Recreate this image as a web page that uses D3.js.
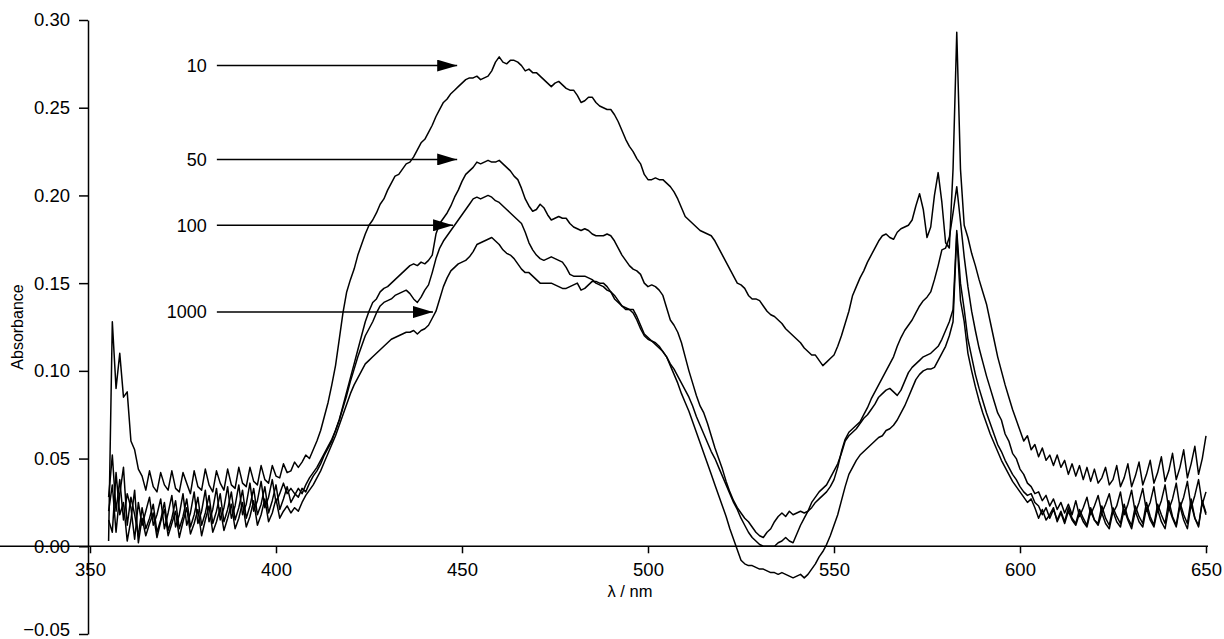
<!DOCTYPE html>
<html lang="en">
<head>
    <meta charset="UTF-8">
    <title>Absorbance spectra</title>
    <script src="https://cdn.jsdelivr.net/npm/d3@7/dist/d3.min.js"></script>
    <style>
        html, body {
            margin: 0;
            padding: 0;
            background: #fff;
        }
        #chart text {
            font-family: "Liberation Sans", Arial, Helvetica, sans-serif;
            fill: #000;
        }
    </style>
</head>
<body>
<div id="chart"></div>

<script>
    // wavelength grid, 1 nm steps, 355 - 650 nm
    var wavelengths = d3.range(355, 651, 1);

    // spectrum labelled 10
    var spec10 = [
        0.003, 0.128, 0.090, 0.110, 0.085, 0.088, 0.060, 0.055, 0.044, 0.040,
        0.032, 0.043, 0.034, 0.031, 0.042, 0.035, 0.032, 0.043, 0.033, 0.031,
        0.042, 0.036, 0.030, 0.043, 0.034, 0.032, 0.044, 0.035, 0.031, 0.043,
        0.036, 0.032, 0.044, 0.035, 0.033, 0.045, 0.036, 0.034, 0.045, 0.037,
        0.035, 0.046, 0.038, 0.036, 0.046, 0.040, 0.039, 0.047, 0.042, 0.043,
        0.048, 0.045, 0.048, 0.052, 0.050, 0.055, 0.060, 0.066, 0.074, 0.082,
        0.092, 0.103, 0.118, 0.133, 0.145, 0.152, 0.158, 0.166, 0.172, 0.178,
        0.183, 0.186, 0.190, 0.195, 0.198, 0.203, 0.207, 0.211, 0.212, 0.215,
        0.218, 0.219, 0.222, 0.226, 0.230, 0.232, 0.236, 0.240, 0.245, 0.249,
        0.253, 0.255, 0.258, 0.260, 0.262, 0.264, 0.266, 0.267, 0.267, 0.268,
        0.266, 0.267, 0.268, 0.271, 0.276, 0.279, 0.276, 0.275, 0.277, 0.277,
        0.276, 0.274, 0.271, 0.272, 0.270, 0.270, 0.268, 0.266, 0.264, 0.262,
        0.264, 0.265, 0.263, 0.261, 0.260, 0.260, 0.257, 0.253, 0.254, 0.256,
        0.256, 0.253, 0.251, 0.250, 0.249, 0.249, 0.246, 0.242, 0.237, 0.232,
        0.228, 0.225, 0.221, 0.218, 0.212, 0.209, 0.209, 0.210, 0.209, 0.209,
        0.207, 0.205, 0.202, 0.198, 0.193, 0.188, 0.186, 0.184, 0.182, 0.180,
        0.179, 0.178, 0.177, 0.174, 0.170, 0.166, 0.162, 0.158, 0.154, 0.150,
        0.149, 0.147, 0.143, 0.141, 0.141, 0.140, 0.137, 0.134, 0.132, 0.131,
        0.129, 0.127, 0.124, 0.122, 0.120, 0.118, 0.116, 0.113, 0.111, 0.109,
        0.109, 0.106, 0.103, 0.105, 0.107, 0.109, 0.114, 0.120, 0.127, 0.134,
        0.143, 0.148, 0.153, 0.157, 0.162, 0.166, 0.170, 0.174, 0.177, 0.178,
        0.176, 0.175, 0.179, 0.181, 0.182, 0.183, 0.186, 0.194, 0.201, 0.192,
        0.176, 0.182, 0.200, 0.213, 0.196, 0.173, 0.170, 0.215, 0.293, 0.215,
        0.183, 0.176, 0.167, 0.160, 0.152, 0.145, 0.138, 0.128, 0.118, 0.108,
        0.100, 0.092, 0.085, 0.078, 0.072, 0.066, 0.060, 0.063, 0.055, 0.058,
        0.051, 0.056, 0.049, 0.052, 0.046, 0.052, 0.045, 0.049, 0.041, 0.047,
        0.040, 0.046, 0.038, 0.045, 0.037, 0.044, 0.036, 0.039, 0.045, 0.035,
        0.038, 0.046, 0.034, 0.039, 0.047, 0.034, 0.040, 0.048, 0.035, 0.041,
        0.049, 0.036, 0.042, 0.051, 0.037, 0.043, 0.053, 0.038, 0.045, 0.055,
        0.039, 0.047, 0.057, 0.041, 0.050, 0.063
    ];

    // spectrum labelled 50
    var spec50 = [
        0.028, 0.052, 0.020, 0.038, 0.015, 0.030, 0.022, 0.004, 0.025, 0.012,
        0.020, 0.028, 0.012, 0.018, 0.027, 0.010, 0.019, 0.029, 0.011, 0.018,
        0.030, 0.012, 0.019, 0.031, 0.013, 0.020, 0.032, 0.014, 0.021, 0.033,
        0.015, 0.022, 0.034, 0.016, 0.023, 0.035, 0.018, 0.024, 0.036, 0.020,
        0.026, 0.037, 0.022, 0.028, 0.038, 0.025, 0.030, 0.036, 0.030, 0.033,
        0.030, 0.028, 0.033, 0.031, 0.036, 0.040, 0.043, 0.047, 0.052, 0.056,
        0.060, 0.066, 0.072, 0.080, 0.088, 0.096, 0.104, 0.112, 0.120, 0.128,
        0.134, 0.139, 0.141, 0.145, 0.147, 0.148, 0.150, 0.152, 0.154, 0.156,
        0.158, 0.160, 0.161, 0.160, 0.162, 0.161, 0.163, 0.166, 0.178, 0.184,
        0.187, 0.190, 0.194, 0.199, 0.203, 0.208, 0.212, 0.214, 0.216, 0.219,
        0.218, 0.219, 0.220, 0.219, 0.219, 0.220, 0.218, 0.216, 0.214, 0.211,
        0.209, 0.204, 0.198, 0.194, 0.191, 0.192, 0.195, 0.193, 0.189, 0.186,
        0.187, 0.188, 0.187, 0.187, 0.184, 0.182, 0.181, 0.180, 0.181, 0.180,
        0.178, 0.177, 0.177, 0.177, 0.178, 0.177, 0.174, 0.170, 0.166, 0.163,
        0.160, 0.158, 0.157, 0.155, 0.150, 0.148, 0.149, 0.148, 0.146, 0.143,
        0.136, 0.129, 0.126, 0.122, 0.116, 0.108, 0.100, 0.093, 0.086, 0.080,
        0.076, 0.070, 0.063, 0.056, 0.050, 0.044, 0.037, 0.031, 0.026, 0.022,
        0.019, 0.016, 0.014, 0.011, 0.008, 0.006, 0.005, 0.008, 0.010, 0.014,
        0.017, 0.019, 0.017, 0.020, 0.018, 0.019, 0.020, 0.019, 0.020, 0.022,
        0.025, 0.027, 0.029, 0.031, 0.034, 0.038, 0.045, 0.054, 0.061, 0.065,
        0.067, 0.069, 0.071, 0.075, 0.079, 0.084, 0.088, 0.092, 0.096, 0.100,
        0.104, 0.108, 0.114, 0.119, 0.123, 0.126, 0.129, 0.133, 0.137, 0.140,
        0.142, 0.145, 0.152, 0.160, 0.169, 0.170, 0.176, 0.190, 0.205, 0.185,
        0.165, 0.148, 0.134, 0.123, 0.113, 0.105, 0.097, 0.090, 0.083, 0.076,
        0.072, 0.064, 0.060, 0.053, 0.050, 0.044, 0.041, 0.036, 0.034, 0.030,
        0.031, 0.026, 0.029, 0.023, 0.027, 0.021, 0.025, 0.019, 0.024, 0.018,
        0.026, 0.017, 0.022, 0.028, 0.018, 0.023, 0.029, 0.019, 0.024, 0.030,
        0.019, 0.023, 0.031, 0.018, 0.024, 0.032, 0.019, 0.025, 0.033, 0.020,
        0.025, 0.034, 0.020, 0.026, 0.035, 0.021, 0.027, 0.036, 0.022, 0.028,
        0.037, 0.022, 0.029, 0.038, 0.024, 0.031
    ];

    // spectrum labelled 100
    var spec100 = [
        0.020, 0.035, 0.008, 0.030, 0.045, 0.012, 0.028, 0.018, 0.006, 0.022,
        0.010, 0.016, 0.024, 0.008, 0.015, 0.025, 0.009, 0.016, 0.026, 0.010,
        0.017, 0.027, 0.011, 0.018, 0.028, 0.012, 0.019, 0.029, 0.013, 0.020,
        0.030, 0.014, 0.021, 0.031, 0.015, 0.022, 0.032, 0.016, 0.023, 0.033,
        0.018, 0.024, 0.034, 0.019, 0.026, 0.035, 0.021, 0.027, 0.034, 0.025,
        0.029, 0.033, 0.030, 0.035, 0.039, 0.042, 0.045, 0.049, 0.053, 0.057,
        0.061, 0.066, 0.072, 0.079, 0.086, 0.094, 0.101, 0.108, 0.114, 0.120,
        0.124, 0.128, 0.133, 0.137, 0.139, 0.140, 0.141, 0.143, 0.144, 0.145,
        0.146, 0.144, 0.141, 0.139, 0.142, 0.146, 0.149, 0.156, 0.164, 0.170,
        0.174, 0.177, 0.180, 0.183, 0.186, 0.189, 0.192, 0.195, 0.198, 0.199,
        0.198, 0.199, 0.200, 0.199, 0.197, 0.196, 0.194, 0.192, 0.190, 0.188,
        0.186, 0.184, 0.179, 0.173, 0.169, 0.166, 0.164, 0.163, 0.164, 0.165,
        0.164, 0.163, 0.162, 0.159, 0.155, 0.154, 0.154, 0.154, 0.154, 0.153,
        0.152, 0.150, 0.149, 0.148, 0.146, 0.145, 0.143, 0.140, 0.137, 0.136,
        0.135, 0.133, 0.129, 0.124, 0.120, 0.118, 0.117, 0.116, 0.114, 0.111,
        0.108, 0.104, 0.101, 0.097, 0.093, 0.089, 0.085, 0.080, 0.074, 0.069,
        0.064, 0.059, 0.054, 0.050, 0.045, 0.040, 0.035, 0.030, 0.025, 0.021,
        0.016, 0.012, 0.008, 0.005, 0.003, 0.001, 0.000, 0.000, 0.000, 0.000,
        0.002, 0.003, 0.005, 0.003, 0.002, 0.007, 0.012, 0.016, 0.020, 0.025,
        0.028, 0.031, 0.033, 0.035, 0.039, 0.043, 0.047, 0.053, 0.060, 0.063,
        0.065, 0.067, 0.070, 0.073, 0.075, 0.078, 0.081, 0.085, 0.087, 0.089,
        0.090, 0.088, 0.086, 0.089, 0.094, 0.099, 0.102, 0.104, 0.106, 0.108,
        0.109, 0.110, 0.112, 0.114, 0.118, 0.123, 0.128, 0.135, 0.180, 0.150,
        0.135, 0.118, 0.108, 0.098, 0.090, 0.083, 0.076, 0.070, 0.064, 0.058,
        0.054, 0.049, 0.045, 0.041, 0.038, 0.034, 0.031, 0.029, 0.030, 0.025,
        0.023, 0.018, 0.022, 0.016, 0.021, 0.015, 0.020, 0.014, 0.022, 0.016,
        0.013, 0.021, 0.016, 0.012, 0.022, 0.015, 0.013, 0.023, 0.016, 0.012,
        0.022, 0.017, 0.013, 0.024, 0.016, 0.012, 0.023, 0.017, 0.013, 0.025,
        0.017, 0.012, 0.024, 0.018, 0.013, 0.026, 0.017, 0.012, 0.025, 0.018,
        0.013, 0.027, 0.016, 0.011, 0.026, 0.019
    ];

    // spectrum labelled 1000
    var spec1000 = [
        0.015, 0.008, 0.042, 0.018, 0.025, 0.003, 0.015, 0.032, 0.002, 0.016,
        0.006, 0.013, 0.019, 0.005, 0.014, 0.021, 0.006, 0.013, 0.020, 0.005,
        0.014, 0.022, 0.007, 0.013, 0.021, 0.006, 0.015, 0.023, 0.008, 0.014,
        0.022, 0.009, 0.016, 0.024, 0.010, 0.016, 0.025, 0.011, 0.017, 0.026,
        0.012, 0.018, 0.027, 0.014, 0.019, 0.027, 0.016, 0.020, 0.023, 0.019,
        0.022, 0.020, 0.025, 0.029, 0.032, 0.035, 0.039, 0.043, 0.048, 0.053,
        0.058, 0.063, 0.069, 0.075, 0.081, 0.087, 0.092, 0.096, 0.100, 0.104,
        0.106, 0.108, 0.110, 0.112, 0.114, 0.116, 0.118, 0.119, 0.120, 0.121,
        0.122, 0.122, 0.123, 0.121, 0.123, 0.124, 0.126, 0.130, 0.134, 0.141,
        0.148, 0.153, 0.157, 0.159, 0.161, 0.162, 0.163, 0.165, 0.168, 0.172,
        0.173, 0.174, 0.175, 0.176, 0.174, 0.172, 0.169, 0.167, 0.166, 0.164,
        0.161, 0.158, 0.156, 0.156, 0.154, 0.152, 0.150, 0.150, 0.150, 0.150,
        0.149, 0.148, 0.147, 0.147, 0.148, 0.149, 0.150, 0.146, 0.147, 0.149,
        0.151, 0.151, 0.150, 0.150, 0.148, 0.145, 0.141, 0.139, 0.137, 0.135,
        0.135, 0.135, 0.131, 0.126, 0.121, 0.119, 0.117, 0.115, 0.113, 0.111,
        0.108, 0.103, 0.098, 0.093, 0.087, 0.082, 0.077, 0.071, 0.065, 0.059,
        0.053, 0.047, 0.041, 0.035, 0.029, 0.023, 0.017, 0.010, 0.004, -0.002,
        -0.008, -0.010, -0.011, -0.011, -0.012, -0.013, -0.013, -0.014, -0.015, -0.015,
        -0.016, -0.015, -0.016, -0.017, -0.018, -0.017, -0.016, -0.018, -0.016, -0.013,
        -0.010, -0.006, -0.003, 0.001, 0.006, 0.012, 0.018, 0.026, 0.034, 0.041,
        0.045, 0.049, 0.052, 0.054, 0.056, 0.058, 0.060, 0.062, 0.063, 0.066,
        0.067, 0.069, 0.072, 0.076, 0.080, 0.085, 0.090, 0.095, 0.098, 0.100,
        0.101, 0.101, 0.102, 0.106, 0.110, 0.114, 0.120, 0.128, 0.178, 0.140,
        0.128, 0.110, 0.100, 0.091, 0.083, 0.076, 0.070, 0.064, 0.059, 0.054,
        0.049, 0.045, 0.041, 0.037, 0.034, 0.031, 0.028, 0.025, 0.027, 0.022,
        0.016, 0.021, 0.015, 0.018, 0.022, 0.014, 0.019, 0.013, 0.020, 0.015,
        0.012, 0.019, 0.014, 0.011, 0.020, 0.015, 0.012, 0.019, 0.013, 0.010,
        0.020, 0.014, 0.011, 0.021, 0.015, 0.010, 0.020, 0.014, 0.011, 0.022,
        0.015, 0.011, 0.021, 0.014, 0.010, 0.022, 0.016, 0.011, 0.023, 0.015,
        0.010, 0.024, 0.016, 0.012, 0.025, 0.018
    ];

    var seriesList = [spec10, spec50, spec100, spec1000];

    // annotation arrows: label, height of arrow (absorbance), arrow tip (nm)
    var arrowLabels = ["10", "50", "100", "1000"];
    var arrowLevels = [0.274, 0.2205, 0.183, 0.1335];
    var arrowTips = [448.7, 448.7, 447.6, 442.2];
    var arrowStart = 384.1;

    var xTicks = [350, 400, 450, 500, 550, 600, 650];
    var yTicks = [-0.05, 0.00, 0.05, 0.10, 0.15, 0.20, 0.25, 0.30];

    var W = 1224, H = 639;

    var svg = d3.select("#chart").append("svg")
        .attr("width", W)
        .attr("height", H);

    var x = d3.scaleLinear().domain([350, 650]).range([90, 1206]);
    var y = d3.scaleLinear().domain([-0.05, 0.30]).range([634, 20]);

    // y axis
    var yAxis = svg.append("g")
        .attr("transform", "translate(88,0)")
        .call(d3.axisLeft(y)
            .tickValues(yTicks)
            .tickFormat(d3.format(".2f"))
            .tickSize(9)
            .tickSizeOuter(0)
            .tickPadding(9));
    yAxis.selectAll("text").style("font-size", "18.5px");
    // lowest label would be clipped by the bottom edge
    yAxis.selectAll(".tick")
        .filter(function (d) { return d < 0; })
        .select("text")
        .attr("dy", "0.1em");

    // x axis sits on the zero line
    var xAxis = svg.append("g")
        .attr("transform", "translate(0," + y(0) + ")")
        .call(d3.axisBottom(x)
            .tickValues(xTicks)
            .tickFormat(d3.format("d"))
            .tickSize(7)
            .tickSizeOuter(0)
            .tickPadding(10));
    xAxis.selectAll("text").style("font-size", "18.5px");
    xAxis.select(".domain").attr("d", "M-2,0H1208");

    svg.selectAll(".domain, .tick line")
        .attr("stroke", "#000")
        .attr("stroke-width", 1.5);

    // axis titles
    svg.append("text")
        .attr("x", 630)
        .attr("y", 597)
        .attr("text-anchor", "middle")
        .style("font-size", "16.5px")
        .text("λ / nm");

    svg.append("text")
        .attr("transform", "translate(23,327) rotate(-90)")
        .attr("text-anchor", "middle")
        .style("font-size", "16px")
        .text("Absorbance");

    // spectra
    var line = d3.line()
        .x(function (d, i) { return x(wavelengths[i]); })
        .y(function (d) { return y(d); });

    svg.append("g")
        .selectAll("path")
        .data(seriesList)
        .enter()
        .append("path")
        .attr("d", line)
        .attr("fill", "none")
        .attr("stroke", "#000")
        .attr("stroke-width", 1.5)
        .attr("stroke-linejoin", "round");

    // arrows with concentration labels
    svg.append("defs").append("marker")
        .attr("id", "head")
        .attr("viewBox", "0 0 20 12")
        .attr("refX", 20)
        .attr("refY", 6)
        .attr("markerWidth", 20)
        .attr("markerHeight", 12)
        .attr("markerUnits", "userSpaceOnUse")
        .attr("orient", "auto")
        .append("path")
        .attr("d", "M0,0L20,6L0,12Z")
        .attr("fill", "#000");

    var ann = svg.append("g");
    arrowLabels.forEach(function (lab, i) {
        ann.append("line")
            .attr("x1", x(arrowStart))
            .attr("x2", x(arrowTips[i]))
            .attr("y1", y(arrowLevels[i]))
            .attr("y2", y(arrowLevels[i]))
            .attr("stroke", "#000")
            .attr("stroke-width", 1.5)
            .attr("marker-end", "url(#head)");
        ann.append("text")
            .attr("x", x(arrowStart) - 10)
            .attr("y", y(arrowLevels[i]))
            .attr("dy", "0.35em")
            .attr("text-anchor", "end")
            .style("font-size", "18px")
            .text(lab);
    });
</script>
</body>
</html>
